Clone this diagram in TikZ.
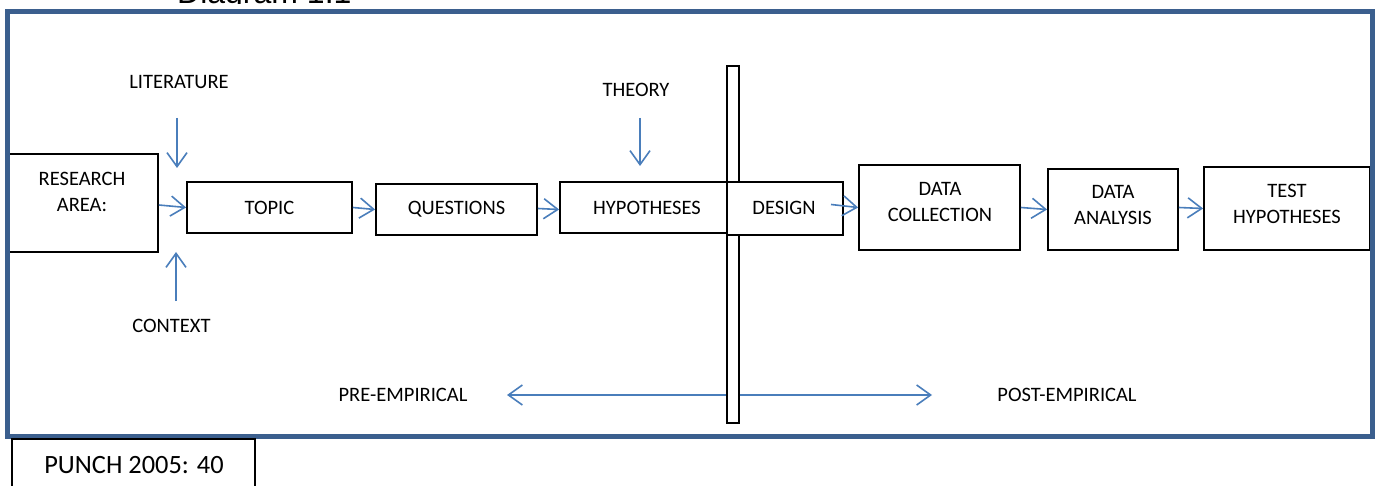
\documentclass[tikz,border=0pt]{standalone}
\usepackage{fontspec}
\setmainfont{Carlito}
\newfontfamily\arialfont{Liberation Sans}
\usetikzlibrary{arrows.meta}
\definecolor{frameblue}{HTML}{3B5F8E}
\definecolor{arrowblue}{HTML}{4A7EBB}
\begin{document}
\begin{tikzpicture}[x=1pt,y=-1pt,
  box/.style={draw=black, line width=1.8pt, fill=white, inner sep=0pt, align=center,
    font=\fontsize{20.5}{25.5}\selectfont},
  lbl/.style={inner sep=0pt, align=center, font=\fontsize{20.5}{25.5}\selectfont},
  flow/.style={draw=arrowblue, line width=1.6pt,
    -{Straight Barb[length=14pt,width=20pt,line width=1.6pt]}},
  both/.style={draw=arrowblue, line width=1.6pt,
    {Straight Barb[length=14pt,width=20pt,line width=1.6pt]}-{Straight Barb[length=14pt,width=20pt,line width=1.6pt]}},
]
\useasboundingbox (0,0) rectangle (1378,486);
\fill[white] (0,0) rectangle (1378,486);

% title (cut off at the top)
\begin{scope}
\clip (0,0) rectangle (1378,3.6);
\node[anchor=base west, inner sep=0pt, font=\arialfont\fontsize{32}{36}\selectfont] (title) at (177,3.2) {Diagram 1.1};
\end{scope}

% double arrow and divider
\coordinate (preL) at (507,395);
\coordinate (postR) at (932,395);
\draw[both] (preL) -- (postR);
\node[draw=black, line width=1.8pt, fill=white, minimum width=12pt, minimum height=357pt, inner sep=0pt] (bar) at (733,244.5) {};

% boxes
\node[box, minimum width=150pt, minimum height=98pt] (ra) at (83,203) {};
\node[lbl] (ratext) at (82,192) {RESEARCH\\AREA:};
\node[box, minimum width=165pt, minimum height=51pt] (topic) at (269.5,207.5) {TOPIC};
\node[box, minimum width=161pt, minimum height=51pt] (quest) at (456.5,209.5) {QUESTIONS};
\node[box, minimum width=167pt, minimum height=51pt] (hyp) at (643.5,207.5) {};
\node[lbl] (hyptext) at (647,208) {HYPOTHESES};
\node[box, minimum width=116pt, minimum height=53pt] (design) at (785,208.5) {};
\node[lbl] (designtext) at (784,208) {DESIGN};
\node[box, minimum width=161pt, minimum height=85pt] (dc) at (939.5,207.5) {};
\node[lbl] (dctext) at (940,202) {DATA\\COLLECTION};
\node[box, minimum width=130pt, minimum height=81pt] (da) at (1113,209.5) {};
\node[lbl] (datext) at (1113,205) {DATA\\ANALYSIS};
\node[box, minimum width=166pt, minimum height=83pt] (th) at (1287,208.5) {};
\node[lbl] (thtext) at (1287,204) {TEST\\HYPOTHESES};

% side labels
\node[lbl] (lit) at (179,82.5) {LITERATURE};
\node[lbl] (theory) at (636,90) {THEORY};
\node[lbl] (context) at (171.5,325.5) {CONTEXT};
\node[lbl] (pre) at (403,395) {PRE-EMPIRICAL};
\node[lbl] (post) at (1067,395) {POST-EMPIRICAL};

% vertical arrows
\coordinate (litA) at (177,118);
\coordinate (litB) at (177,168);
\draw[flow] (litA) -- (litB);
\coordinate (thA) at (640,118);
\coordinate (thB) at (640,166);
\draw[flow] (thA) -- (thB);
\coordinate (conA) at (176,301);
\coordinate (conB) at (176,252);
\draw[flow] (conA) -- (conB);

% flow arrows
\draw[flow] ([yshift=-2pt]ra.east) -- (topic.west);
\draw[flow] (topic.east) -- (quest.west);
\draw[flow] ([yshift=1pt]quest.east) -- ([yshift=-2pt]hyp.west);
\coordinate (desA) at (831,204.5);
\draw[flow] (desA) -- (dc.west);
\draw[flow] (dc.east) -- (da.west);
\draw[flow] ([yshift=2pt]da.east) -- (th.west);

% frame
\draw[frameblue, line width=5pt] (7,12) rectangle (1372,436);

% source box
\node[draw=black, line width=1.5pt, fill=white, minimum width=243pt, minimum height=56pt, inner sep=0pt] (src) at (133.5,467) {};
\node[inner sep=0pt, font=\fontsize{26.4}{30}\selectfont] (srctext) at (134,465) {PUNCH 2005: 40};
\end{tikzpicture}
\end{document}
